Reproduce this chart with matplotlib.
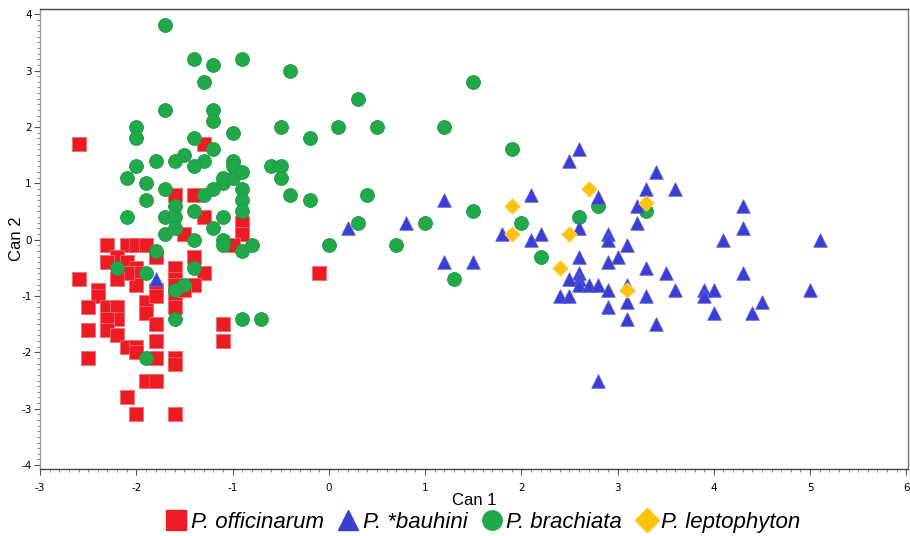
import numpy as np
import matplotlib
matplotlib.use("Agg")
import matplotlib.pyplot as plt
from matplotlib.ticker import MultipleLocator
from matplotlib.lines import Line2D

plt.rcParams["axes.unicode_minus"] = False

# canonical scores (Can 1, Can 2)
officinarum = [(-2.6, 1.7), (-1.3, 1.7), (-1.6, 0.8), (-1.4, 0.8), (-1.3, 0.4), (-0.9, 0.3), (-0.9, 0.1),
               (-1.5, 0.1), (-1.0, -0.1), (-2.3, -0.1), (-2.1, -0.1), (-2.0, -0.1), (-1.9, -0.1), (-2.2, -0.3),
               (-2.3, -0.4), (-2.1, -0.4), (-1.8, -0.3), (-1.4, -0.3), (-2.0, -0.5), (-2.0, -0.6), (-2.0, -0.8),
               (-2.1, -0.6), (-2.2, -0.7), (-2.6, -0.7), (-2.4, -0.9), (-2.4, -1.0), (-2.5, -1.2), (-2.3, -1.2),
               (-2.2, -1.2), (-2.2, -1.4), (-2.3, -1.4), (-2.3, -1.6), (-2.2, -1.7), (-2.5, -1.6), (-2.1, -1.9),
               (-2.0, -1.9), (-2.0, -2.0), (-2.5, -2.1), (-1.9, -1.1), (-1.9, -1.3), (-1.8, -0.9), (-1.8, -1.0),
               (-1.8, -1.5), (-1.8, -1.8), (-1.8, -2.1), (-1.9, -2.5), (-1.8, -2.5), (-2.1, -2.8), (-2.0, -3.1),
               (-1.6, -3.1), (-1.6, -0.5), (-1.6, -0.7), (-1.6, -0.8), (-1.6, -1.0), (-1.6, -1.2), (-1.6, -2.1),
               (-1.6, -2.2), (-1.3, -0.6), (-1.4, -0.8), (-1.5, -0.9), (-1.1, -1.5), (-1.1, -1.8), (-0.1, -0.6)]

bauhini = [(-1.8, -0.7), (0.2, 0.2), (0.8, 0.3), (1.2, 0.7), (1.2, -0.4), (1.5, -0.4), (1.8, 0.1), (2.1, 0.8),
           (2.1, 0.0), (2.2, 0.1), (2.6, 1.6), (2.5, 1.4), (3.4, 1.2), (3.3, 0.9), (3.6, 0.9), (2.8, 0.75),
           (3.2, 0.6), (3.2, 0.3), (2.6, 0.2), (2.9, 0.1), (2.9, 0.0), (3.1, -0.1), (3.0, -0.3), (2.9, -0.4),
           (2.6, -0.3), (2.6, -0.6), (2.6, -0.7), (2.5, -0.7), (2.6, -0.8), (2.7, -0.8), (2.8, -0.8), (2.9, -0.9),
           (2.4, -1.0), (2.5, -1.0), (2.9, -1.2), (3.1, -0.8), (3.1, -1.1), (3.1, -1.4), (3.3, -0.5), (3.3, -1.0),
           (3.5, -0.6), (3.6, -0.9), (3.4, -1.5), (4.3, 0.6), (4.3, 0.2), (4.1, 0.0), (5.1, 0.0), (4.3, -0.6),
           (3.9, -0.9), (4.0, -0.9), (3.9, -1.0), (4.5, -1.1), (4.0, -1.3), (4.4, -1.3), (5.0, -0.9), (2.8, -2.5)]

brachiata = [(-1.7, 3.8), (-1.4, 3.2), (-1.2, 3.1), (-1.3, 2.8), (-0.9, 3.2), (-0.4, 3.0), (-1.7, 2.3), (-1.2, 2.3),
             (-1.2, 2.1), (-2.0, 2.0), (-2.0, 1.8), (-1.4, 1.8), (-1.0, 1.9), (-0.5, 2.0), (-0.2, 1.8), (0.1, 2.0),
             (-1.2, 1.6), (-1.5, 1.5), (-1.6, 1.4), (-1.3, 1.4), (-1.4, 1.3), (-1.8, 1.4), (-2.0, 1.3), (-2.1, 1.1),
             (-1.9, 1.0), (-1.7, 0.9), (-1.9, 0.7), (-2.1, 0.4), (-1.7, 0.4), (-1.6, 0.6), (-1.6, 0.4), (-1.4, 0.5),
             (-1.3, 0.8), (-1.2, 0.9), (-1.1, 1.0), (-1.1, 1.1), (-1.0, 1.4), (-1.0, 1.3), (-1.0, 1.1), (-0.9, 1.2),
             (-0.9, 0.9), (-0.9, 0.7), (-0.9, 0.5), (-0.6, 1.3), (-0.5, 1.3), (-0.5, 1.1), (-0.4, 0.8), (-0.2, 0.7),
             (-1.1, 0.4), (-1.2, 0.2), (-1.4, 0.0), (-1.1, 0.0), (-1.1, -0.1), (-0.9, -0.2), (-0.8, -0.1), (-1.7, 0.1),
             (-1.6, 0.2), (0.0, -0.1), (-1.8, -0.2), (-2.2, -0.5), (-1.9, -0.6), (-1.4, -0.5), (-1.5, -0.8),
             (-1.6, -0.9), (-1.6, -1.4), (-0.9, -1.4), (-0.7, -1.4), (-1.9, -2.1), (1.5, 2.8), (0.3, 2.5), (0.5, 2.0),
             (1.2, 2.0), (1.9, 1.6), (0.4, 0.8), (0.3, 0.3), (0.7, -0.1), (1.0, 0.3), (1.5, 0.5), (2.0, 0.3),
             (2.2, -0.3), (1.3, -0.7), (2.6, 0.4), (2.8, 0.6), (3.3, 0.5)]

leptophyton = [(1.9, 0.6), (1.9, 0.1), (2.7, 0.9), (2.5, 0.1), (2.4, -0.5), (3.1, -0.9), (3.3, 0.65)]

labels = ["P. officinarum", "P. *bauhini", "P. brachiata", "P. leptophyton"]

red = "#ED1C24"
blue = "#3B3FD1"
green = "#21A84A"
yellow = "#FFC20E"

fig = plt.figure(figsize=(9.1, 5.36), dpi=100)
ax = fig.add_axes([0.044, 0.125, 0.954, 0.858])

def pts(lst):
    a = np.array(lst)
    return a[:, 0], a[:, 1]

x, y = pts(officinarum)
ax.scatter(x, y, marker="s", s=88, c=red, edgecolors="#F26B70", linewidths=0.6, zorder=2)
x, y = pts(brachiata)
ax.scatter(x, y, marker="o", s=100, c=green, edgecolors="#1C9A42", linewidths=0.6, zorder=3)
x, y = pts(bauhini)
ax.scatter(x, y, marker="^", s=95, c=blue, edgecolors="#5C60E6", linewidths=0.6, zorder=4)
x, y = pts(leptophyton)
ax.scatter(x, y, marker="D", s=62, c=yellow, edgecolors="#FFD24A", linewidths=0.6, zorder=5)

ax.set_xlim(-3, 6.02)
ax.set_ylim(-4.07, 4.09)
ax.xaxis.set_major_locator(MultipleLocator(1))
ax.xaxis.set_minor_locator(MultipleLocator(0.1))
ax.yaxis.set_major_locator(MultipleLocator(1))
ax.yaxis.set_minor_locator(MultipleLocator(0.1))
ax.tick_params(which="major", direction="out", length=4, width=0.8, color="#555555",
               labelsize=7.5, pad=2)
ax.tick_params(axis="x", which="major", pad=6)
ax.tick_params(which="minor", direction="out", length=2, width=0.6, color="#777777")

ax.spines["top"].set_color("#444444")
ax.spines["bottom"].set_color("#444444")
ax.spines["left"].set_color("#999999")
ax.spines["right"].set_color("#777777")
for s in ax.spines.values():
    s.set_linewidth(1.0)

ax.set_xlabel("Can 1", fontsize=12, family="Liberation Sans", labelpad=0)
ax.set_ylabel("Can 2", fontsize=12, family="Liberation Sans")
ax.yaxis.set_label_coords(-0.018, 0.5)

handles = [
    Line2D([], [], linestyle="", marker="s", markersize=14, color=red),
    Line2D([], [], linestyle="", marker="^", markersize=14, color=blue),
    Line2D([], [], linestyle="", marker="o", markersize=14, color=green),
    Line2D([], [], linestyle="", marker="D", markersize=12, color=yellow),
]
fig.legend(handles, labels, loc="center", bbox_to_anchor=(0.53, 0.026), ncol=4, frameon=False,
           prop={"family": "Liberation Sans", "style": "italic", "size": 16},
           handletextpad=0.1, columnspacing=0.55, handlelength=1.1, borderpad=0)

plt.savefig("out.png", dpi=100)
